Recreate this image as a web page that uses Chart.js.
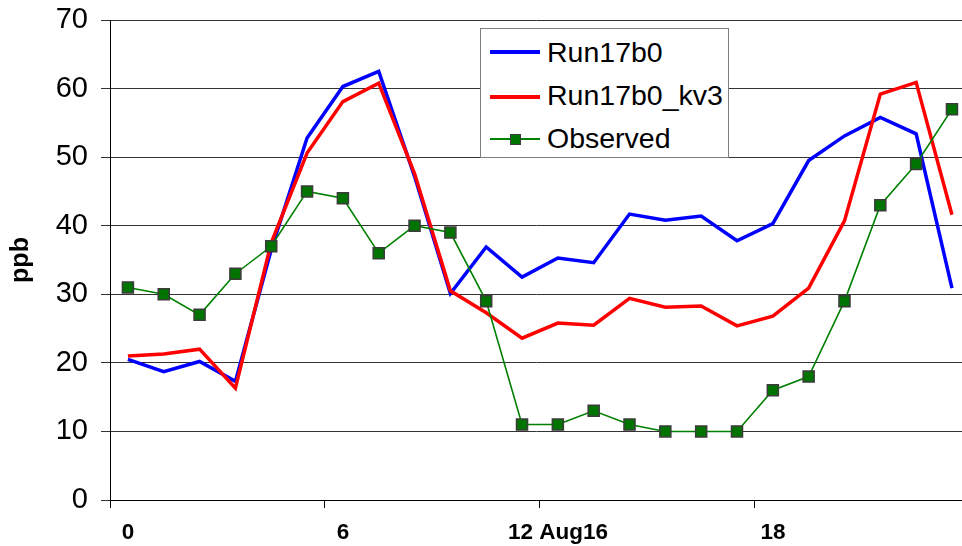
<!DOCTYPE html>
<html>
<head>
<meta charset="utf-8">
<title>ppb</title>
<script src="https://cdn.jsdelivr.net/npm/chart.js@4/dist/chart.umd.min.js"></script>
<style>
  html, body { margin: 0; padding: 0; background: #fff; overflow: hidden; }
  #wrap { position: relative; width: 962px; height: 546px; }
  #chart { position: absolute; left: 0; top: 0; }
  #legend {
    position: absolute; left: 480px; top: 28px; width: 247px; height: 128px;
    border: 1px solid #7f7f7f; background: #fff;
    font-family: "Liberation Sans", Arial, sans-serif; font-size: 28.5px; color: #000;
  }
  #legend .txt { position: absolute; left: 66px; height: 34px; line-height: 34px; white-space: nowrap; }
  #legend .line { position: absolute; left: 9px; width: 50px; }
  #legend .mark { position: absolute; box-sizing: border-box; }
</style>
</head>
<body>
<div id="wrap">
  <canvas id="chart" width="962" height="546"></canvas>
  <div id="legend"></div>
</div>
<script>
// Hourly ozone, 12 Aug 2016
const hours = [0, 1, 2, 3, 4, 5, 6, 7, 8, 9, 10, 11, 12, 13, 14, 15, 16, 17, 18, 19, 20, 21, 22, 23];
const run17b0 = [20.5, 18.7, 20.2, 17.3, 36.5, 52.8, 60.3, 62.5, 47.2, 30.1, 36.9, 32.5,
                 35.3, 34.6, 41.7, 40.8, 41.4, 37.8, 40.3, 49.5, 53.1, 55.8, 53.4, 30.9];
const run17b0Kv3 = [21.0, 21.3, 22.0, 16.3, 37.5, 50.6, 58.1, 60.8, 47.6, 30.5, 27.3, 23.6,
                    25.8, 25.5, 29.4, 28.1, 28.3, 25.4, 26.8, 30.9, 40.7, 59.2, 60.9, 41.6];
const observed = [31, 30, 27, 33, 37, 45, 44, 36, 40, 39, 29, 11,
                  11, 13, 11, 10, 10, 10, 16, 18, 29, 43, 49, 57];
const tickHours = [0, 6, 12, 18];
const tickLabels = ['0', '6', '12 Aug16', '18'];
const yTicks = [0, 10, 20, 30, 40, 50, 60, 70];

const FONT = '"Liberation Sans", Arial, sans-serif';
Chart.defaults.font.family = FONT;
Chart.defaults.color = '#000';

const toPoints = vals => hours.map((h, i) => ({ x: h, y: vals[i] }));

const datasets = [
  { label: 'Run17b0', data: toPoints(run17b0), borderColor: '#0000ff', backgroundColor: '#0000ff',
    borderWidth: 3.5, pointRadius: 0, tension: 0, order: 2, clip: 8 },
  { label: 'Run17b0_kv3', data: toPoints(run17b0Kv3), borderColor: '#ff0000', backgroundColor: '#ff0000',
    borderWidth: 3.5, pointRadius: 0, tension: 0, order: 1, clip: 8 },
  { label: 'Observed', data: toPoints(observed), borderColor: '#008000', backgroundColor: '#008000',
    borderWidth: 1.6, pointStyle: 'rect', pointRadius: 7.8, pointBackgroundColor: '#007400',
    pointBorderColor: '#3c3c3c', pointBorderWidth: 1.5, tension: 0, order: 0, clip: 8 }
];

// keep the plot area edges fixed: no extra room for overhanging tick labels
const noPadding = s => { s.paddingLeft = 0; s.paddingRight = 0; s.paddingTop = 0; s.paddingBottom = 0; };

const chart = new Chart(document.getElementById('chart'), {
  type: 'line',
  data: { datasets },
  options: {
    responsive: false,
    animation: false,
    devicePixelRatio: 1,
    layout: { autoPadding: false, padding: { top: 20, right: 0, bottom: 0, left: 0 } },
    plugins: { legend: { display: false }, tooltip: { enabled: false } },
    scales: {
      x: {
        type: 'linear',
        min: -0.5,
        max: 23.28,
        afterBuildTicks: s => { s.ticks = tickHours.map(h => ({ value: h - 0.5 })); },
        afterFit: s => { s.height = 46; noPadding(s); },
        ticks: {
          autoSkip: false, maxRotation: 0, minRotation: 0,
          labelOffset: 18,
          padding: 11,
          font: { size: 22.5, weight: 'bold' },
          color: '#000',
          callback: v => tickLabels[tickHours.indexOf(Math.round(v + 0.5))]
        },
        grid: { drawOnChartArea: false, tickLength: 8, color: '#000' },
        border: { color: '#000', width: 1 }
      },
      y: {
        min: 0,
        max: 70,
        afterBuildTicks: s => { s.ticks = yTicks.map(v => ({ value: v })); },
        afterFit: s => { s.width = 110; noPadding(s); },
        ticks: { font: { size: 29 }, color: '#000', padding: 13 },
        grid: { color: '#333', tickLength: 9, lineWidth: 1 },
        border: { color: '#000', width: 1 },
        title: { display: true, text: 'ppb', font: { size: 25, weight: 'bold' }, color: '#000', padding: { top: 6, bottom: 0 } }
      }
    }
  }
});

// Boxed legend drawn from the chart's datasets
const legend = document.getElementById('legend');
const rowTop = [6, 49, 92];
const rowMid = [23, 68, 110];
chart.data.datasets.forEach((ds, i) => {
  const line = document.createElement('div');
  line.className = 'line';
  line.style.top = (rowMid[i] - ds.borderWidth / 2) + 'px';
  line.style.height = ds.borderWidth + 'px';
  line.style.background = ds.borderColor;
  legend.appendChild(line);
  if (ds.pointStyle === 'rect') {
    const side = 11;
    const m = document.createElement('div');
    m.className = 'mark';
    m.style.left = (9 + 25 - side / 2) + 'px';
    m.style.top = (rowMid[i] - side / 2) + 'px';
    m.style.width = side + 'px';
    m.style.height = side + 'px';
    m.style.background = ds.pointBackgroundColor;
    m.style.border = ds.pointBorderWidth + 'px solid ' + ds.pointBorderColor;
    legend.appendChild(m);
  }
  const t = document.createElement('span');
  t.className = 'txt';
  t.style.top = rowTop[i] + 'px';
  t.textContent = ds.label;
  legend.appendChild(t);
});
</script>
</body>
</html>
